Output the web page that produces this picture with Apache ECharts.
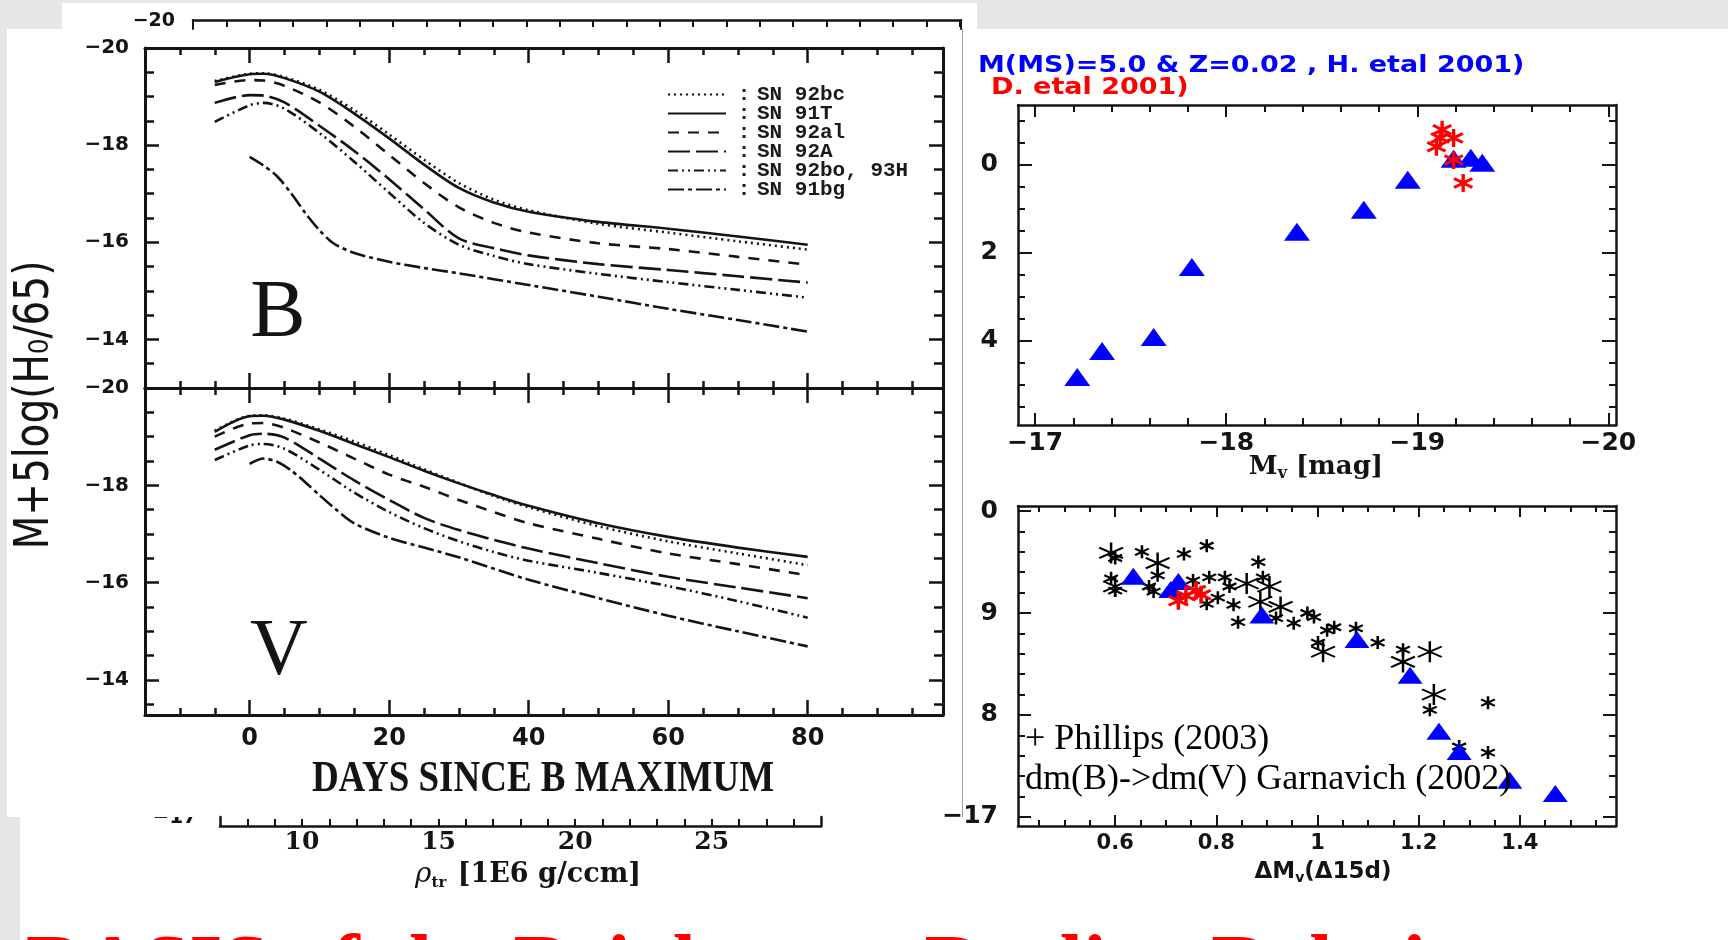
<!DOCTYPE html>
<html>
<head>
<meta charset="utf-8">
<script src="https://cdn.jsdelivr.net/npm/echarts@6/dist/echarts.min.js"></script>
<style>
html,body{margin:0;padding:0;background:#fff;}
#c{width:1728px;height:940px;}
</style>
</head>
<body>
<div id="c"></div>
<script>
// ---------------- DATA ----------------
const days   = [-5, 0, 2, 5, 10, 15, 20, 25, 30, 35, 40, 50, 60, 70, 80];
const daysBg = [0, 2, 4, 6, 8, 10, 12, 15, 20, 25, 30, 40, 50, 60, 70, 80];
const snNames = ['SN 92bc', 'SN 91T', 'SN 92al', 'SN 92A', 'SN 92bo, 93H', 'SN 91bg'];

// B band light curves  (M + 5 log(H0/65))
const bMag92bc = [-19.32, -19.47, -19.48, -19.40, -19.14, -18.72, -18.22, -17.70, -17.22, -16.88, -16.66, -16.38, -16.20, -16.02, -15.85];
const bMag91T  = [-19.30, -19.46, -19.47, -19.38, -19.10, -18.65, -18.14, -17.60, -17.12, -16.82, -16.63, -16.42, -16.28, -16.12, -15.95];
const bMag92al = [-19.24, -19.34, -19.33, -19.22, -18.88, -18.38, -17.80, -17.22, -16.72, -16.40, -16.20, -15.98, -15.86, -15.70, -15.54];
const bMag92A  = [-18.87, -19.03, -19.02, -18.88, -18.40, -17.88, -17.30, -16.68, -16.08, -15.88, -15.73, -15.55, -15.43, -15.30, -15.17];
const bMag92bo = [-18.48, -18.82, -18.87, -18.75, -18.25, -17.66, -17.02, -16.40, -15.95, -15.72, -15.55, -15.35, -15.18, -15.02, -14.86];
const bMag91bg = [-17.76, -17.58, -17.35, -17.00, -16.60, -16.25, -15.98, -15.78, -15.60, -15.47, -15.36, -15.12, -14.88, -14.63, -14.40, -14.16];

// V band light curves
const vMag92bc = [-19.12, -19.43, -19.44, -19.37, -19.15, -18.90, -18.62, -18.33, -18.05, -17.78, -17.55, -17.16, -16.85, -16.60, -16.36];
const vMag91T  = [-19.10, -19.42, -19.43, -19.35, -19.12, -18.85, -18.58, -18.30, -18.04, -17.80, -17.58, -17.22, -16.94, -16.72, -16.53];
const vMag92al = [-19.00, -19.27, -19.28, -19.18, -18.88, -18.55, -18.22, -17.97, -17.70, -17.45, -17.22, -16.90, -16.60, -16.38, -16.15];
const vMag92A  = [-18.73, -19.03, -19.06, -18.98, -18.55, -18.10, -17.70, -17.33, -17.08, -16.88, -16.70, -16.40, -16.12, -15.90, -15.68];
const vMag92bo = [-18.52, -18.82, -18.85, -18.75, -18.32, -17.85, -17.45, -17.12, -16.85, -16.63, -16.45, -16.20, -15.93, -15.62, -15.28];
const vMag91bg = [-18.44, -18.55, -18.48, -18.30, -18.06, -17.80, -17.55, -17.22, -16.92, -16.72, -16.52, -16.06, -15.68, -15.32, -15.00, -14.69];

// upper right: models (blue triangles) and D. etal 2001 (red stars)
const urTriMv  = [-17.22, -17.35, -17.62, -17.82, -18.37, -18.72, -18.95, -19.19, -19.28, -19.34];
const urTriY   = [4.82, 4.23, 3.91, 2.32, 1.52, 1.02, 0.34, -0.14, -0.16, -0.05];
const urStarMv = [-19.13, -19.12, -19.19, -19.10, -19.19, -19.24];
const urStarY  = [-0.80, -0.61, -0.61, -0.41, -0.11, 0.41];

// lower right: dM_V(15d) vs M_V
const lrTriDM  = [0.636, 0.725, 0.71, 0.89, 1.078, 1.183, 1.24, 1.28, 1.38, 1.47];
const lrTriMag = [-19.36, -19.31, -19.23, -18.98, -18.74, -18.39, -17.84, -17.64, -17.36, -17.23];
const lrRedDM  = [0.725, 0.74, 0.76, 0.77];
const lrRedMag = [-19.12, -19.17, -19.22, -19.18];
const lrBigDM  = [0.592, 0.684, 0.600, 0.860, 0.905, 0.887, 0.927, 1.011, 1.222, 1.169, 1.230];
const lrBigMag = [-19.59, -19.49, -19.26, -19.29, -19.26, -19.11, -19.06, -18.62, -18.62, -18.52, -18.20];
const lrSmallDM  = [0.600, 0.653, 0.736, 0.781, 0.592, 0.600, 0.667, 0.676, 0.684, 0.754, 0.786, 0.817, 0.826, 0.803, 0.781, 0.834, 0.843, 0.883, 0.892, 0.918, 0.953, 0.980, 0.993, 1.019, 1.033, 1.001, 1.076, 1.119, 1.169, 1.222, 1.337, 1.337, 1.280];
const lrSmallMag = [-19.54, -19.60, -19.58, -19.66, -19.34, -19.22, -19.26, -19.21, -19.37, -19.32, -19.35, -19.35, -19.26, -19.15, -19.09, -19.08, -18.91, -19.50, -19.35, -18.95, -18.90, -19.00, -18.96, -18.83, -18.86, -18.71, -18.85, -18.71, -18.64, -18.05, -18.12, -17.63, -17.69];

// tick labels
const bandYTicks = [-20, -18, -16, -14];
const dayTicks   = [0, 20, 40, 60, 80];
const urXTicks   = [-17, -18, -19, -20];
const urYTicks   = [0, 2, 4];
const lrXTicks   = [0.6, 0.8, 1, 1.2, 1.4];
const lrYTicks   = [-20, -19, -18, -17];
const lrYLabels  = ['0', '9', '8', '−17'];
const rhoTicks   = [10, 15, 20, 25];

// ---------------- STYLE ----------------
const INK = '#141414';
const GRAY = '#e6e6e6';
const curveStyle = {
  'SN 92bc':      { type: [2, 4], width: 2.6 },
  'SN 91T':       { type: 'solid', width: 2.6 },
  'SN 92al':      { type: [11, 9], width: 2.6 },
  'SN 92A':       { type: [22, 6], width: 2.6 },
  'SN 92bo, 93H': { type: [10, 4, 2, 4, 2, 4], width: 2.6 },
  'SN 91bg':      { type: [16, 4, 4, 4], width: 2.6 }
};
function starPath(h) {
  const f = v => Math.round(v * 100) / 100;
  const a = 0.5 * h, b = 0.866 * h;
  return 'path://M' + f(50 - h) + ',0L' + f(50 + h) + ',0L' + f(50 + h) + ',100L' + f(50 - h) + ',100Z' +
    'M' + f(6.7 - a) + ',' + f(25 + b) + 'L' + f(6.7 + a) + ',' + f(25 - b) + 'L' + f(93.3 + a) + ',' + f(75 - b) + 'L' + f(93.3 - a) + ',' + f(75 + b) + 'Z' +
    'M' + f(93.3 - a) + ',' + f(25 - b) + 'L' + f(93.3 + a) + ',' + f(25 + b) + 'L' + f(6.7 + a) + ',' + f(75 + b) + 'L' + f(6.7 - a) + ',' + f(75 - b) + 'Z';
}
const STAR_BOLD = starPath(8);
const STAR_THIN = starPath(4.5);

function range(a, b, s) { const r = []; for (let v = a; v <= b + 1e-9; v += s) r.push(Math.round(v * 1000) / 1000); return r; }
const fmtMinus = v => (v < 0 ? '−' : '') + Math.abs(v);

const xAxes = [], yAxes = [];
function axis(list, grid, pos, min, max, inverse, ticks, len, tickW, lineW, label) {
  list.push({
    type: 'value', gridIndex: grid, position: pos, min: min, max: max, inverse: !!inverse,
    splitLine: { show: false },
    axisLine: { show: lineW > 0, onZero: false, lineStyle: { color: INK, width: lineW || 1 } },
    axisTick: ticks ? { show: true, inside: true, length: len, customValues: ticks, lineStyle: { color: INK, width: tickW } } : { show: false },
    axisLabel: label ? Object.assign({ show: true, hideOverlap: false, color: INK, fontWeight: 'bold', fontFamily: 'DejaVu Sans' }, label) : { show: false },
    z: 4
  });
  return list.length - 1;
}
function frame(grid, xr, yr, t, st) {
  const xi = axis(xAxes, grid, 'bottom', xr[0], xr[1], xr[2], t.xMinor, st.xMin, st.tick, st.line, null);
  axis(xAxes, grid, 'bottom', xr[0], xr[1], xr[2], t.xMajor, st.xMaj, st.tick, 0, st.xLabel);
  axis(xAxes, grid, 'top', xr[0], xr[1], xr[2], t.xMinor, st.xMin, st.tick, st.line, null);
  axis(xAxes, grid, 'top', xr[0], xr[1], xr[2], t.xMajor, st.xMaj, st.tick, 0, null);
  const yi = axis(yAxes, grid, 'left', yr[0], yr[1], yr[2], t.yMinor, st.yMin, st.tick, st.line, null);
  axis(yAxes, grid, 'left', yr[0], yr[1], yr[2], t.yMajor, st.yMaj, st.tick, 0, st.yLabel);
  axis(yAxes, grid, 'right', yr[0], yr[1], yr[2], t.yMinor, st.yMin, st.tick, st.line, null);
  axis(yAxes, grid, 'right', yr[0], yr[1], yr[2], t.yMajor, st.yMaj, st.tick, 0, null);
  return { x: xi, y: yi };
}

const grids = [
  { left: 145, top: 48, width: 798, height: 340 },
  { left: 145, top: 388, width: 798, height: 327 },
  { left: 1018, top: 105, width: 598, height: 320 },
  { left: 1018, top: 506, width: 598, height: 320 },
  { left: 193, top: 20, width: 768, height: 9 },
  { left: 220, top: 817, width: 601, height: 9 }
];

const bandYLabel = { customValues: bandYTicks, formatter: fmtMinus, fontSize: 20, margin: 16 };
const fB = frame(0, [-15, 99.4, false], [-20, -13, true],
  { xMinor: range(-10, 95, 5), xMajor: dayTicks, yMinor: range(-19.5, -13.5, 0.5), yMajor: bandYTicks },
  { xMin: 7, xMaj: 15, yMin: 9, yMaj: 14, line: 3, tick: 2.5, xLabel: null, yLabel: bandYLabel });
const fV = frame(1, [-15, 99.4, false], [-20, -13.28, true],
  { xMinor: range(-10, 95, 5), xMajor: dayTicks, yMinor: range(-19.5, -13.5, 0.5), yMajor: bandYTicks },
  { xMin: 7, xMaj: 15, yMin: 9, yMaj: 14, line: 3, tick: 2.5,
    xLabel: { customValues: dayTicks, fontSize: 24, margin: 12 }, yLabel: bandYLabel });
const fUR = frame(2, [-20.04, -16.91, true], [-1.36, 5.91, true],
  { xMinor: range(-20, -17, 0.2), xMajor: urXTicks, yMinor: range(-1, 5.5, 0.5), yMajor: urYTicks },
  { xMin: 7, xMaj: 12, yMin: 7, yMaj: 14, line: 2.5, tick: 2,
    xLabel: { customValues: urXTicks, formatter: fmtMinus, fontSize: 25, margin: 6 },
    yLabel: { customValues: urYTicks, fontSize: 25, margin: 20 } });
const fLR = frame(3, [0.408, 1.59, false], [-20.05, -16.91, true],
  { xMinor: range(0.45, 1.55, 0.05), xMajor: lrXTicks, yMinor: range(-19.8, -17.2, 0.2), yMajor: lrYTicks },
  { xMin: 6, xMaj: 11, yMin: 7, yMaj: 13, line: 2.5, tick: 2,
    xLabel: { customValues: lrXTicks, fontSize: 21, margin: 7 },
    yLabel: { customValues: lrYTicks, formatter: v => lrYLabels[lrYTicks.indexOf(v)], fontSize: 25, margin: 20 } });

// rho plot remnants (top edge and bottom axis)
axis(xAxes, 4, 'top', 0, 23.04, false, range(1, 23, 1), 7, 2, 2.5, null);
axis(yAxes, 4, 'left', 0, 1, false, null, 0, 0, 2, null);
axis(yAxes, 4, 'right', 0, 1, false, null, 0, 0, 2, null);
axis(xAxes, 5, 'bottom', 7, 29, false, range(8, 28, 1), 7, 2, 2.5,
  { customValues: rhoTicks, fontSize: 25, margin: 4, fontFamily: 'DejaVu Serif' });
axis(yAxes, 5, 'left', 0, 1, false, null, 0, 0, 2.5, null);
axis(yAxes, 5, 'right', 0, 1, false, null, 0, 0, 2.5, null);

// ---------------- SERIES ----------------
function curve(name, xs, ys, f) {
  const s = curveStyle[name];
  return { type: 'line', name: name, xAxisIndex: f.x, yAxisIndex: f.y, data: xs.map((d, i) => [d, ys[i]]),
    showSymbol: false, symbol: 'none', smooth: 0.3, color: INK,
    lineStyle: { color: INK, width: s.width, type: s.type }, z: 3, silent: true };
}
function pts(xs, ys) { return xs.map((v, i) => [v, ys[i]]); }
function scat(f, data, symbol, size, color, z) {
  return { type: 'scatter', xAxisIndex: f.x, yAxisIndex: f.y, data: data, symbol: symbol, symbolSize: size,
    itemStyle: { color: color, opacity: 1 }, z: z, silent: true };
}

const series = [
  curve('SN 92bc', days, bMag92bc, fB), curve('SN 91T', days, bMag91T, fB), curve('SN 92al', days, bMag92al, fB),
  curve('SN 92A', days, bMag92A, fB), curve('SN 92bo, 93H', days, bMag92bo, fB), curve('SN 91bg', daysBg, bMag91bg, fB),
  curve('SN 92bc', days, vMag92bc, fV), curve('SN 91T', days, vMag91T, fV), curve('SN 92al', days, vMag92al, fV),
  curve('SN 92A', days, vMag92A, fV), curve('SN 92bo, 93H', days, vMag92bo, fV), curve('SN 91bg', daysBg, vMag91bg, fV),
  scat(fUR, pts(urTriMv, urTriY), 'triangle', [26, 18], '#0000ff', 5),
  scat(fUR, pts(urStarMv, urStarY), STAR_BOLD, [20, 18], '#ff0000', 6),
  scat(fLR, pts(lrSmallDM, lrSmallMag), STAR_BOLD, [15, 13], '#000', 5),
  scat(fLR, pts(lrBigDM, lrBigMag), STAR_THIN, [25, 21], '#000', 5),
  scat(fLR, pts(lrTriDM, lrTriMag), 'triangle', [25, 17], '#0000ff', 6),
  scat(fLR, pts(lrRedDM, lrRedMag), STAR_BOLD, [21, 18], '#ff0000', 7)
];

// ---------------- LEGEND (one block per row, placed like the scanned key) ----------------
const legendText = { fontFamily: 'Liberation Mono', fontWeight: 'bold', fontSize: 21, color: '#1a1a1a', lineHeight: 15 };
const legends = snNames.map((n, i) => ({
  data: [n], orient: 'horizontal', left: 667, top: 84 + i * 19, itemWidth: 58, itemHeight: 12,
  selectedMode: false, padding: 0, itemStyle: { opacity: 0 },
  formatter: s => '{c|:}{t|' + s + '}',
  textStyle: Object.assign({}, legendText, { rich: { c: Object.assign({ width: 26, align: 'center' }, legendText), t: Object.assign({}, legendText) } })
}));

// ---------------- GRAPHICS (background pieces, titles, texts) ----------------
function rect(x, y, w, h, fill, z) { return { type: 'rect', shape: { x: x, y: y, width: w, height: h }, style: { fill: fill }, z: z || 0, silent: true }; }
function txt(x, y, text, st, extra) {
  return Object.assign({ type: 'text', x: x, y: y, z: 10, silent: true,
    style: Object.assign({ text: text, fill: INK, align: 'left', verticalAlign: 'middle' }, st) }, extra || {});
}
const graphics = [
  rect(0, 0, 1728, 3, GRAY), rect(0, 3, 62, 26, GRAY), rect(977, 3, 751, 26, GRAY),
  rect(0, 29, 7, 788, GRAY), rect(0, 817, 20, 123, GRAY), rect(962, 29, 1, 788, '#a0a0a0'),
  // rho plot fragments
  txt(175, 21, '−20', { align: 'right', fontSize: 19, fontWeight: 'bold', fontFamily: 'DejaVu Sans' }),
  txt(197, 818, '−17', { align: 'right', fontSize: 20, fontWeight: 'bold', fontFamily: 'DejaVu Sans' }, { z: 1 }),
  rect(120, 790, 90, 27, '#fff', 2),
  txt(528, 875, '{r|ρ}{s|tr}{m| [1E6 g/ccm]}', { align: 'center', rich: {
    r: { fontSize: 28, fontStyle: 'italic', fontFamily: 'DejaVu Serif', fill: INK },
    s: { fontSize: 15, fontWeight: 'bold', fontFamily: 'DejaVu Serif', padding: [16, 2, 0, 0], fill: INK },
    m: { fontSize: 27, fontWeight: 'bold', fontFamily: 'DejaVu Serif', fill: INK } } }),
  // left panel texts
  txt(36, 405, 'M+5log(H₀/65)', { align: 'center', fontSize: 39, fontFamily: 'DejaVu Sans' }, { rotation: Math.PI / 2, scaleY: 1.22 }),
  txt(543, 780, 'DAYS SINCE B MAXIMUM', { align: 'center', fontSize: 37, fontWeight: 'bold', fontFamily: 'Liberation Serif' }, { scaleY: 1.2 }),
  txt(278, 314, 'B', { align: 'center', fontSize: 83, fontFamily: 'Liberation Serif' }),
  txt(279, 653, 'V', { align: 'center', fontSize: 80, fontFamily: 'Liberation Serif' }),
  // upper right titles
  txt(978, 66, 'M(MS)=5.0 & Z=0.02 , H. etal 2001)', { fontSize: 27, fontWeight: 'bold', fontFamily: 'DejaVu Sans', fill: '#0000ff' }, { scaleY: 0.85 }),
  txt(991, 88, 'D. etal 2001)', { fontSize: 27, fontWeight: 'bold', fontFamily: 'DejaVu Sans', fill: '#ff0000' }, { scaleY: 0.85 }),
  txt(1316, 467, '{m|M}{s|v}{m| [mag]}', { align: 'center', rich: {
    m: { fontSize: 26, fontWeight: 'bold', fontFamily: 'DejaVu Serif', fill: INK },
    s: { fontSize: 16, fontWeight: 'bold', fontFamily: 'DejaVu Serif', padding: [14, 0, 0, 0], fill: INK } } }),
  // lower right
  txt(1323, 872, '{m|ΔM}{s|v}{m|(Δ15d)}', { align: 'center', rich: {
    m: { fontSize: 23, fontWeight: 'bold', fontFamily: 'DejaVu Sans', fill: INK },
    s: { fontSize: 14, fontWeight: 'bold', fontFamily: 'DejaVu Sans', padding: [12, 0, 0, 0], fill: INK } } }),
  txt(1025, 740, '+ Phillips (2003)', { fontSize: 36, fontFamily: 'Liberation Serif', fill: '#000' }, { z: 12 }),
  txt(1025, 780, 'dm(B)->dm(V) Garnavich (2002)', { fontSize: 36, fontFamily: 'Liberation Serif', fill: '#000' }, { z: 12 }),
  // slide title (cut by the bottom edge)
  txt(26, 971, 'BASIS of the Brightness-Decline Relation', { fontSize: 84, fontWeight: 'bold', fontFamily: 'Liberation Serif', fill: '#ff0000' }, { z: 12 })
];

const chart = echarts.init(document.getElementById('c'), null, { renderer: 'canvas', width: 1728, height: 940 });
chart.setOption({
  backgroundColor: '#ffffff',
  animation: false,
  textStyle: { fontFamily: 'DejaVu Sans' },
  grid: grids,
  xAxis: xAxes,
  yAxis: yAxes,
  legend: legends,
  graphic: { elements: graphics },
  series: series
});
</script>
</body>
</html>
